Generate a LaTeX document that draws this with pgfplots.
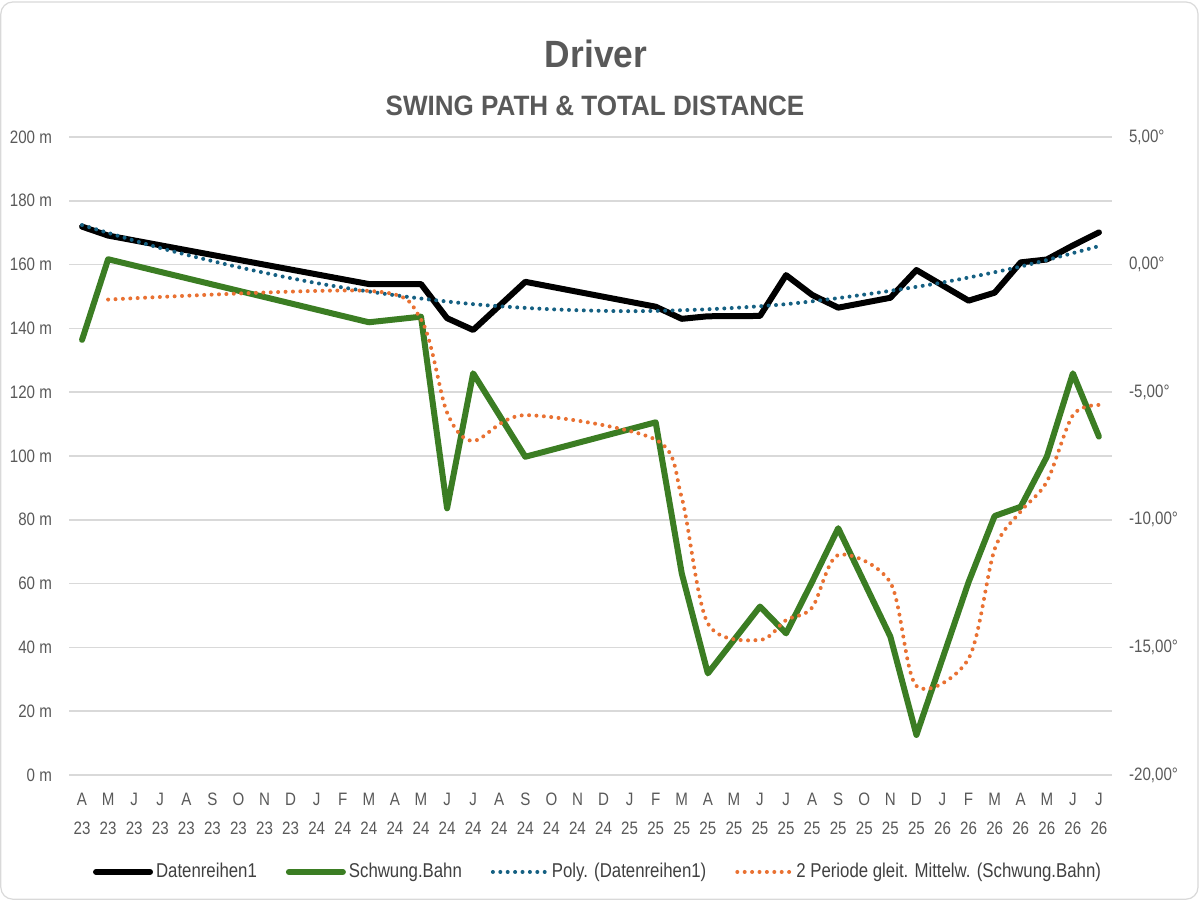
\documentclass[border=0pt]{standalone}
\usepackage{fontspec}
\setmainfont{Liberation Sans}[FakeStretch=0.84]
\newfontfamily\titlefamily{Liberation Sans}[FakeStretch=0.93]
\usepackage{pgfplots}
\pgfplotsset{compat=1.18}

\definecolor{txt}{HTML}{595959}
\definecolor{legtxt}{HTML}{404040}
\definecolor{gridc}{HTML}{D9D9D9}
\definecolor{bordc}{HTML}{D9D9D9}
\definecolor{swing}{HTML}{3B7D23}
\definecolor{avgc}{HTML}{E97132}
\definecolor{polyc}{HTML}{156082}

\tikzset{
  dots/.style={line width=2pt, line cap=round, dash pattern=on 0pt off 3.7pt},
}

\newcommand{\tickfont}{\fontsize{9}{14}\selectfont}

\begin{document}
\begin{tikzpicture}
\path[use as bounding box] (0,0) rectangle (600pt,450pt);
\draw[bordc, line width=0.6pt, rounded corners=6pt] (0.4pt,0.4pt) rectangle (599pt,449pt);

% titles
\node[anchor=base, text=txt, font=\titlefamily\fontsize{19}{22}\selectfont\bfseries] at (298pt,416pt) {Driver};
\node[anchor=base, text=txt, font=\titlefamily\fontsize{14}{16}\selectfont\bfseries] at (297.5pt,392pt) {SWING PATH \& TOTAL DISTANCE};

% primary axis: total distance in metres
\begin{axis}[
  at={(34.5pt,62.5pt)}, anchor=south west,
  scale only axis, width=521.5pt, height=319pt,
  xmin=-0.5, xmax=39.5, ymin=0, ymax=200,
  ytick={0,20,...,200},
  yticklabels={0 m,20 m,40 m,60 m,80 m,100 m,120 m,140 m,160 m,180 m,200 m},
  xtick={0,...,39},
  xticklabels={{A\\23},{M\\23},{J\\23},{J\\23},{A\\23},{S\\23},{O\\23},{N\\23},{D\\23},
               {J\\24},{F\\24},{M\\24},{A\\24},{M\\24},{J\\24},{J\\24},{A\\24},{S\\24},{O\\24},{N\\24},{D\\24},
               {J\\25},{F\\25},{M\\25},{A\\25},{M\\25},{J\\25},{J\\25},{A\\25},{S\\25},{O\\25},{N\\25},{D\\25},
               {J\\26},{F\\26},{M\\26},{A\\26},{M\\26},{J\\26},{J\\26}},
  axis line style={draw=none},
  major tick length=0pt,
  ymajorgrids,
  grid style={draw=gridc, line width=0.8pt},
  tick label style={font=\tickfont, text=txt},
  xticklabel style={align=center, yshift=-5.5pt, font=\fontsize{9}{14.5}\selectfont},
  yticklabel style={xshift=-5pt},
  clip=false,
]
% measured distance
\addplot[black, line width=3pt, line join=round, line cap=round] coordinates {
  (0,171.9) (1,169.1) (11,153.9) (13,153.9) (14,143.2) (15,139.5) (17,154.6)
  (22,146.8) (23,143.0) (24,143.8) (26,143.9) (27,156.7) (28,150.5) (29,146.5)
  (31,149.6) (32,158.3) (34,148.7) (35,151.2) (36,160.7) (37,161.6) (38,166.0) (39,170.1)
};
% polynomial trend of the distance
\addplot[polyc, dots, smooth] coordinates {
  (0,172.4) (3,165.2) (6,159.2) (9,154.2) (12,150.4) (15,147.6) (18,146.0)
  (21,145.4) (24,146.0) (27,147.6) (30,150.6) (33,154.4) (36,159.4) (39,165.8)
};
\end{axis}

% secondary axis: swing path in degrees
\begin{axis}[
  at={(34.5pt,62.5pt)}, anchor=south west,
  scale only axis, width=521.5pt, height=319pt,
  xmin=-0.5, xmax=39.5, ymin=-20, ymax=5,
  hide x axis,
  axis y line*=right,
  axis line style={draw=none},
  major tick length=0pt,
  ytick={-20,-15,...,5},
  yticklabels={{-20,00°},{-15,00°},{-10,00°},{-5,00°},{0,00°},{5,00°}},
  tick label style={font=\tickfont, text=txt},
  yticklabel style={xshift=5pt},
  clip=false,
  legend columns=4,
  legend style={at={(0.5077,-0.152)}, anchor=center, draw=none, fill=none,
    font=\fontsize{10}{12}\selectfont, text=legtxt,
    nodes={inner sep=1.5pt},
    /tikz/every even column/.append style={column sep=13pt}},
  legend image code/.code={\draw[#1] (0pt,0pt) -- (27pt,0pt);},
]
\addlegendimage{black, line width=3pt, line cap=round}
\addlegendentry{Datenreihen1}
% swing path
\addplot[swing, line width=3pt, line join=round, line cap=round] coordinates {
  (0,-2.95) (1,0.21) (11,-2.26) (13,-2.04) (14,-9.55) (15,-4.26) (17,-7.53)
  (22,-6.18) (23,-12.10) (24,-16.02) (26,-13.40) (27,-14.45) (28,-12.43) (29,-10.33)
  (31,-14.58) (32,-18.43) (34,-12.44) (35,-9.85) (36,-9.49) (37,-7.53) (38,-4.26) (39,-6.74)
};
\addlegendentry{Schwung.Bahn}
\addlegendimage{polyc, dots}
\addlegendentry{Poly. (Datenreihen1)}
% two-period moving average of the swing path
\addplot[avgc, dots, smooth] coordinates {
  (1,-1.37) (11,-1.03) (13,-2.15) (14,-5.80) (15,-6.91) (17,-5.90)
  (22,-6.86) (23,-9.14) (24,-14.06) (26,-14.71) (27,-13.93) (28,-13.44) (29,-11.38)
  (31,-12.46) (32,-16.51) (34,-15.44) (35,-11.15) (36,-9.67) (37,-8.51) (38,-5.90) (39,-5.50)
};
\addlegendentry{2 Periode gleit. Mittelw. (Schwung.Bahn)}
\end{axis}
\end{tikzpicture}
\end{document}
